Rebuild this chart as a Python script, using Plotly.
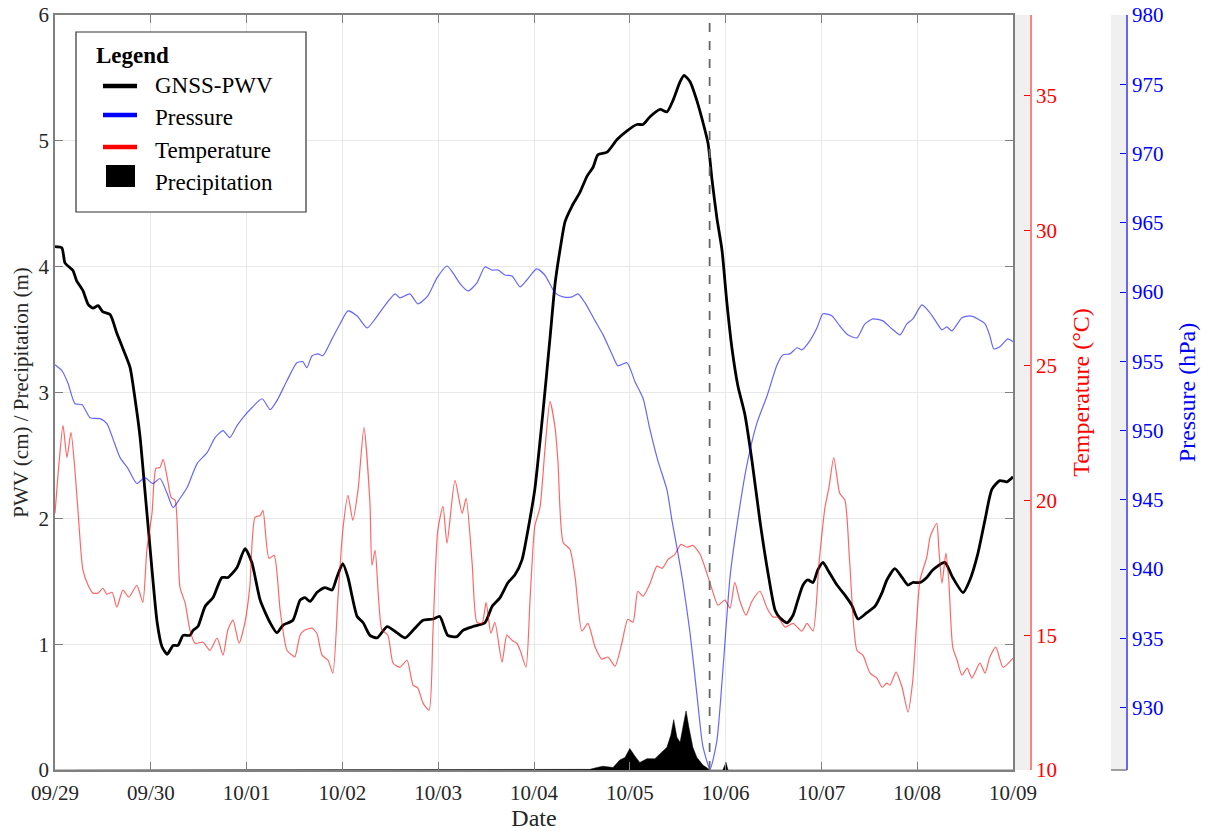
import pandas as pd
import plotly.graph_objects as go

# ---------------- data (hours since 2023-09-29 00:00) ----------------
pwv_h = [0, 1.7, 2.5, 3.8, 4.5, 5.4, 7.0, 8.3, 9.5, 10.8, 12.0, 13.8, 15.5, 17.0, 18.8, 20.0, 21.3, 22.5, 23.8,
         25.6, 26.8, 28.1, 29.6, 30.8, 32.1, 33.8, 34.6, 35.8, 37.6, 39.6, 41.8, 43.3, 45.6, 47.6, 49.3, 51.4,
         53.9, 55.6, 57.1, 59.6, 61.4, 62.6, 63.9, 65.6, 67.6, 69.4, 70.6, 72.1, 73.4, 75.7, 77.2, 78.9, 80.7,
         83.2, 85.7, 87.7, 89.7, 92.2, 94.7, 96.4, 98.4, 100.7, 102.2, 104.7, 107.7, 109.5, 111.5, 113.5, 115.2,
         117.0, 118.5, 120.2, 122.2, 124.0, 125.3, 126.5, 127.8, 129.5, 131.5, 133.3, 134.8, 136.0, 138.3, 140.8,
         143.3, 145.8, 147.3, 149.0, 151.6, 153.3, 154.8, 156.6, 157.6, 159.1, 160.8, 162.3, 163.6, 164.6, 165.8,
         167.1, 168.3, 169.6, 171.1, 172.8, 174.6, 176.6, 178.6, 180.4, 181.6, 183.4, 184.9, 186.1, 187.4, 188.6,
         189.9, 191.1, 192.4, 193.6, 195.9, 197.9, 199.6, 201.2, 203.4, 205.4, 207.2, 208.4, 210.4, 212.2, 213.7,
         214.9, 216.7, 218.4, 219.9, 222.9, 224.9, 227.5, 229.2, 231.2, 233.0, 234.7, 236.7, 238.5, 240.0]
pwv_v = [4.16, 4.15, 4.03, 3.99, 3.97, 3.89, 3.81, 3.70, 3.67, 3.69, 3.64, 3.62, 3.47, 3.35, 3.20, 2.96, 2.65, 2.23,
         1.77, 1.17, 0.98, 0.92, 0.99, 0.99, 1.07, 1.07, 1.11, 1.14, 1.30, 1.37, 1.53, 1.53, 1.61, 1.76, 1.65, 1.35,
         1.17, 1.09, 1.15, 1.19, 1.35, 1.37, 1.34, 1.41, 1.45, 1.43, 1.53, 1.64, 1.53, 1.22, 1.17, 1.07, 1.05,
         1.14, 1.09, 1.05, 1.11, 1.19, 1.20, 1.22, 1.07, 1.06, 1.11, 1.14, 1.17, 1.30, 1.37, 1.49, 1.55,
         1.67, 1.91, 2.23, 2.83, 3.43, 3.87, 4.13, 4.36, 4.48, 4.59, 4.72, 4.79, 4.89, 4.91, 5.01,
         5.08, 5.13, 5.13, 5.19, 5.25, 5.23, 5.32, 5.47, 5.52, 5.47, 5.32, 5.15, 4.98, 4.69, 4.39,
         4.13, 3.72, 3.35, 3.05, 2.83, 2.46, 1.98, 1.57, 1.27, 1.21, 1.17, 1.23, 1.35, 1.47, 1.51,
         1.49, 1.59, 1.65, 1.59, 1.47, 1.39, 1.31, 1.20, 1.25, 1.30, 1.41, 1.51, 1.60, 1.53, 1.47,
         1.49, 1.49, 1.53, 1.59, 1.65, 1.53, 1.41, 1.51, 1.72, 1.99, 2.23, 2.30, 2.29, 2.33]

pres_h = [0, 1.75, 3.3, 5.0, 6.8, 8.8, 11.3, 13.0, 14.5, 16.3, 18.3, 20.5, 22.5, 24.5, 26.3, 28.1, 29.6, 31.3, 33.1,
          35.6, 38.1, 40.1, 42.1, 43.8, 45.6, 47.1, 49.3, 51.9, 53.9, 55.6, 58.1, 60.6, 62.1, 63.1, 64.4, 65.9,
          67.1, 69.4, 71.4, 73.4, 75.7, 78.2, 80.2, 82.2, 85.2, 86.4, 88.9, 90.9, 93.4, 95.7, 98.2, 99.7, 101.5,
          103.5, 105.7, 107.7, 109.5, 111.0, 112.7, 114.5, 116.5, 118.2, 120.7, 122.7, 125.3, 127.3, 129.5, 131.0,
          132.8, 135.3, 137.3, 139.5, 141.0, 143.3, 145.3, 147.3, 149.0, 151.1, 153.3, 154.6, 155.8, 157.3, 159.1,
          160.8, 162.3, 164.1, 165.8, 167.3, 169.1, 170.8, 173.3, 175.8, 178.4, 180.9, 182.4, 184.1, 185.9, 187.1,
          189.1, 190.9, 192.4, 194.6, 196.6, 198.6, 200.9, 202.9, 204.9, 207.4, 209.7, 211.7, 213.4, 214.9, 217.2,
          219.2, 220.9, 222.2, 223.4, 224.7, 227.2, 229.2, 231.2, 233.0, 234.2, 235.2, 236.7, 238.7, 240.0]
pres_v = [954.75, 954.32, 953.38, 951.94, 951.87, 950.93, 950.86, 950.50, 949.42, 948.05, 947.26, 946.18, 946.61,
          946.18, 946.54, 945.46, 944.45, 945.10, 945.89, 947.62, 948.41, 949.49, 950.00, 949.49, 950.36, 950.94,
          951.65, 952.30, 951.51, 952.16, 953.60, 954.90, 954.97, 954.54, 955.40, 955.54, 955.40, 956.62, 957.70,
          958.64, 958.27, 957.41, 958.06, 958.86, 959.87, 959.58, 959.87, 959.15, 959.72, 961.02, 961.88, 961.38,
          960.59, 960.08, 960.66, 961.81, 961.59, 961.59, 961.23, 961.16, 960.37, 960.87, 961.67, 961.23, 959.94,
          959.65, 959.65, 959.87, 959.22, 957.92, 956.91, 955.54, 954.68, 954.90, 953.53, 952.35, 950.14, 947.76,
          945.74, 943.44, 941.57, 939.05, 935.37, 930.98, 927.23, 925.57, 927.59, 932.63, 939.40, 943.08, 947.47,
          950.50, 952.52, 954.75, 955.47, 955.54, 955.98, 955.83, 956.48, 957.42, 958.43, 958.29, 957.56, 956.91,
          956.69, 957.70, 958.06, 957.92, 957.34, 956.91, 957.70, 958.06, 959.07, 958.50, 957.78, 957.27, 957.49,
          957.20, 958.14, 958.28, 958.06, 957.70, 956.84, 955.90, 956.05, 956.62, 956.41]

temp_h = [0, 1.0, 2.0, 3.0, 4.0, 5.0, 5.8, 7.0, 8.3, 9.5, 10.8, 12.0, 13.0, 14.3, 15.5, 17.0, 18.5, 20.5, 22.0, 23.0,
          24.3, 25.3, 26.3, 27.1, 28.1, 29.1, 30.1, 31.3, 32.6, 33.8, 35.1, 37.1, 38.8, 40.6, 42.1, 43.3, 44.6, 46.1,
          47.6, 48.8, 50.1, 51.4, 52.1, 53.6, 54.9, 56.4, 58.1, 59.4, 60.1, 61.4, 62.6, 64.4, 65.6, 66.9, 68.4, 69.6,
          70.9, 72.1, 73.4, 74.6, 75.9, 77.4, 78.9, 79.4, 80.2, 81.9, 83.4, 84.7, 86.4, 88.2, 89.7, 90.9, 92.2, 93.7,
          94.7, 95.9, 97.2, 98.2, 100.2, 102.0, 103.0, 104.5, 105.7, 107.0, 108.0, 109.2, 110.2, 112.0, 113.2, 114.5,
          115.7, 116.7, 118.0, 119.0, 120.2, 121.5, 122.7, 124.0, 125.3, 126.0, 127.3, 129.0, 130.3, 132.0, 133.5,
          135.3, 137.0, 138.5, 140.3, 142.0, 143.5, 144.8, 146.0, 147.3, 149.0, 150.8, 152.1, 153.6, 155.3, 156.8,
          158.3, 159.8, 161.6, 163.3, 164.6, 166.1, 167.8, 169.1, 170.3, 171.6, 173.1, 174.6, 176.6, 178.4, 179.9,
          181.1, 182.9, 184.9, 187.1, 188.4, 189.9, 191.4, 192.9, 193.9, 195.1, 196.6, 197.9, 199.1, 200.9, 202.4,
          204.2, 205.9, 207.2, 208.4, 209.2, 210.7, 212.2, 213.7, 214.9, 216.7, 218.4, 219.2, 219.9, 220.9, 221.4,
          222.2, 223.2, 223.9, 224.9, 226.0, 227.2, 228.5, 229.7, 231.7, 233.0, 234.2, 235.7, 237.5, 240.0]
temp_v = [19.52, 21.37, 22.78, 21.59, 22.52, 21.11, 19.52, 17.41, 16.85, 16.56, 16.56, 16.74, 16.52, 16.59, 16.04,
          16.67, 16.41, 16.85, 16.22, 18.15, 19.52, 21.19, 21.22, 21.52, 20.85, 20.11, 20.00, 16.78, 16.19, 15.19,
          14.70, 14.74, 14.44, 14.89, 14.26, 15.19, 15.56, 14.70, 15.48, 16.78, 19.37, 19.44, 19.63, 17.85, 17.96,
          15.93, 14.44, 14.26, 14.19, 15.00, 15.19, 15.26, 15.07, 14.26, 14.07, 13.59, 16.41, 18.89, 20.19, 19.26,
          20.37, 22.70, 19.89, 17.59, 18.15, 15.19, 15.00, 13.96, 13.81, 14.07, 13.15, 13.04, 12.48, 12.22, 15.19,
          18.89, 19.78, 18.41, 20.74, 19.52, 20.07, 17.67, 15.48, 15.44, 16.22, 15.07, 15.48, 14.00, 15.00, 14.81,
          14.70, 14.37, 13.81, 16.30, 19.04, 19.74, 21.81, 23.67, 22.67, 21.44, 18.44, 18.19, 17.15, 15.15, 15.44,
          14.56, 14.11, 14.19, 13.85, 14.70, 15.59, 15.48, 16.63, 16.44, 16.89, 17.56, 17.48, 17.81, 18.00, 18.37,
          18.26, 18.33, 18.00, 17.30, 16.70, 16.11, 16.30, 16.00, 16.96, 16.26, 15.74, 16.26, 16.63, 16.00, 15.67,
          15.67, 15.30, 15.44, 15.15, 15.44, 15.15, 17.67, 19.74, 20.48, 21.59, 20.26, 20.00, 17.67, 14.44, 14.26,
          13.59, 13.41, 13.07, 13.22, 13.15, 13.63, 13.07, 12.15, 13.33, 17.04, 17.89, 18.63, 18.89, 19.15, 18.26,
          16.93, 18.04, 17.04, 14.56, 14.07, 13.52, 13.78, 13.41, 13.96, 13.59, 14.19, 14.56, 13.81, 14.15]

prec_h = [0, 2.0, 3.0, 4.5, 5.5, 7.0, 126.0, 127.0, 128.5, 129.5, 134.0, 135.8, 137.3, 139.8, 141.5, 142.8, 144.0,
          145.3, 146.5, 148.3, 150.3, 151.6, 153.3, 154.3, 155.0, 155.8, 156.6, 157.3, 158.1, 158.8, 159.8, 160.8,
          162.3, 164.1, 167.3, 168.1, 168.6, 240.0]
prec_v = [0, 0, 0.006, 0.006, 0, 0, 0, 0.006, 0.006, 0, 0.005, 0.02, 0.03, 0.02, 0.08, 0.10, 0.17,
          0.11, 0.06, 0.09, 0.09, 0.13, 0.18, 0.28, 0.40, 0.26, 0.22, 0.34, 0.47, 0.34, 0.18, 0.10,
          0.04, 0.0, 0.0, 0.06, 0.0, 0.0]

event_time = "2023-10-05 20:00"
x_ticks = ["09/29", "09/30", "10/01", "10/02", "10/03", "10/04", "10/05", "10/06", "10/07", "10/08", "10/09"]
legend_names = ["GNSS-PWV", "Pressure", "Temperature", "Precipitation"]
legend_colors = ["black", "blue", "red", "black"]

base = pd.Timestamp("2023-09-29")
def to_t(hours):
    return base + pd.to_timedelta(hours, unit="h")

FONT = "Liberation Serif"
W, H = 1208, 831
ML, MR, MT, MB = 55, 0, 15, 61
PW = W - ML - MR
PH = H - MT - MB
def px(x):
    return (x - ML) / PW
def py(y):
    return 1 - (y - MT) / PH

fig = go.Figure()

fig.add_trace(go.Scatter(x=to_t(prec_h), y=prec_v, mode="lines", fill="tozeroy",
                         line=dict(color="black", width=0.5), fillcolor="black",
                         name="Precipitation", yaxis="y"))
fig.add_trace(go.Scatter(x=to_t(pwv_h), y=pwv_v, mode="lines",
                         line=dict(color="black", width=2.8, shape="spline", smoothing=0.6),
                         name="GNSS-PWV", yaxis="y"))
fig.add_trace(go.Scatter(x=to_t(temp_h), y=temp_v, mode="lines",
                         line=dict(color="rgba(255,0,0,0.6)", width=1.2, shape="spline", smoothing=0.6),
                         name="Temperature", yaxis="y2"))
fig.add_trace(go.Scatter(x=to_t(pres_h), y=pres_v, mode="lines",
                         line=dict(color="rgba(0,0,255,0.6)", width=1.2, shape="spline", smoothing=0.6),
                         name="Pressure", yaxis="y3"))

tick_font = dict(family=FONT, size=21, color="#262626")

shapes = [
    dict(type="rect", xref="paper", yref="paper", x0=px(1014), x1=px(1030), y0=0, y1=1,
         fillcolor="#f0f0f0", line=dict(width=0), layer="below"),
    dict(type="rect", xref="paper", yref="paper", x0=px(1111), x1=px(1126), y0=0, y1=1,
         fillcolor="#f0f0f0", line=dict(width=0), layer="below"),
    dict(type="line", xref="paper", yref="paper", x0=px(1111), x1=px(1127), y0=0, y1=0,
         line=dict(color="#808080", width=1.5)),
    dict(type="line", xref="x", yref="paper", x0=event_time, x1=event_time, y0=0, y1=1,
         line=dict(color="#666666", width=1.8, dash="dash")),
    # legend box
    dict(type="rect", xref="paper", yref="paper", x0=px(76), x1=px(306), y0=py(212), y1=py(32),
         fillcolor="white", line=dict(color="#333333", width=1.2), layer="above"),
]
annotations = [
    dict(text="<b>Legend</b>", xref="paper", yref="paper", x=px(94), y=py(55), xanchor="left", yanchor="middle",
         showarrow=False, font=dict(family=FONT, size=23, color="black")),
]
sym_y = [86, 115, 147]
txt_y = [86, 118, 150, 182]
for i, nm in enumerate(legend_names):
    if i < 3:
        shapes.append(dict(type="line", xref="paper", yref="paper", x0=px(103), x1=px(137),
                           y0=py(sym_y[i]), y1=py(sym_y[i]),
                           line=dict(color=legend_colors[i], width=4.5), layer="above"))
    else:
        shapes.append(dict(type="rect", xref="paper", yref="paper", x0=px(106), x1=px(135),
                           y0=py(187), y1=py(165), fillcolor=legend_colors[i],
                           line=dict(width=0), layer="above"))
    annotations.append(dict(text=nm, xref="paper", yref="paper", x=px(153), y=py(txt_y[i]),
                            xanchor="left", yanchor="middle", showarrow=False,
                            font=dict(family=FONT, size=23, color="black")))

fig.update_layout(
    width=W, height=H,
    margin=dict(l=ML, r=MR, t=MT, b=MB, autoexpand=False),
    paper_bgcolor="white", plot_bgcolor="white",
    font=dict(family=FONT, size=21, color="#262626"),
    showlegend=False,
    xaxis=dict(domain=[0, px(1013)], type="date",
               range=[base, base + pd.Timedelta(days=10)],
               tickvals=[base + pd.Timedelta(days=i) for i in range(11)], ticktext=x_ticks,
               ticks="inside", ticklen=8, tickcolor="#808080", tickwidth=1,
               showline=True, linecolor="#808080", linewidth=1.5, mirror="ticks",
               showgrid=True, gridcolor="#e8e8e8", gridwidth=1, zeroline=False,
               tickfont=tick_font, ticklabelstandoff=3,
               title=dict(text="Date", font=dict(family=FONT, size=24, color="#262626"), standoff=4)),
    yaxis=dict(range=[0, 6], dtick=1, tick0=0,
               ticks="inside", ticklen=8, tickcolor="#808080", tickwidth=1,
               showline=True, linecolor="#808080", linewidth=1.5, mirror="ticks",
               showgrid=True, gridcolor="#e8e8e8", gridwidth=1, zeroline=False,
               tickfont=tick_font,
               title=dict(text="PWV (cm) / Precipitation (m)", font=dict(family=FONT, size=21, color="#262626"),
                          standoff=4)),
    yaxis2=dict(overlaying="y", side="right", anchor="free", position=px(1031),
                range=[10, 38], dtick=5, tick0=10,
                ticks="inside", ticklen=6, tickcolor="red", tickwidth=1,
                showline=True, linecolor="rgba(255,0,0,0.5)", linewidth=1.5,
                showgrid=False, zeroline=False,
                tickfont=dict(family=FONT, size=21, color="red"),
                title=dict(text="Temperature (°C)", font=dict(family=FONT, size=24, color="red"))),
    yaxis3=dict(overlaying="y", side="right", anchor="free", position=px(1127),
                range=[925.5, 980], dtick=5, tick0=930,
                ticks="inside", ticklen=6, tickcolor="blue", tickwidth=1,
                showline=True, linecolor="rgba(0,0,255,0.6)", linewidth=1.5,
                showgrid=False, zeroline=False,
                tickfont=dict(family=FONT, size=21, color="blue"),
                title=dict(text="Pressure (hPa)", font=dict(family=FONT, size=24, color="blue"))),
    shapes=shapes,
    annotations=annotations,
)

fig.write_html("out.html")
